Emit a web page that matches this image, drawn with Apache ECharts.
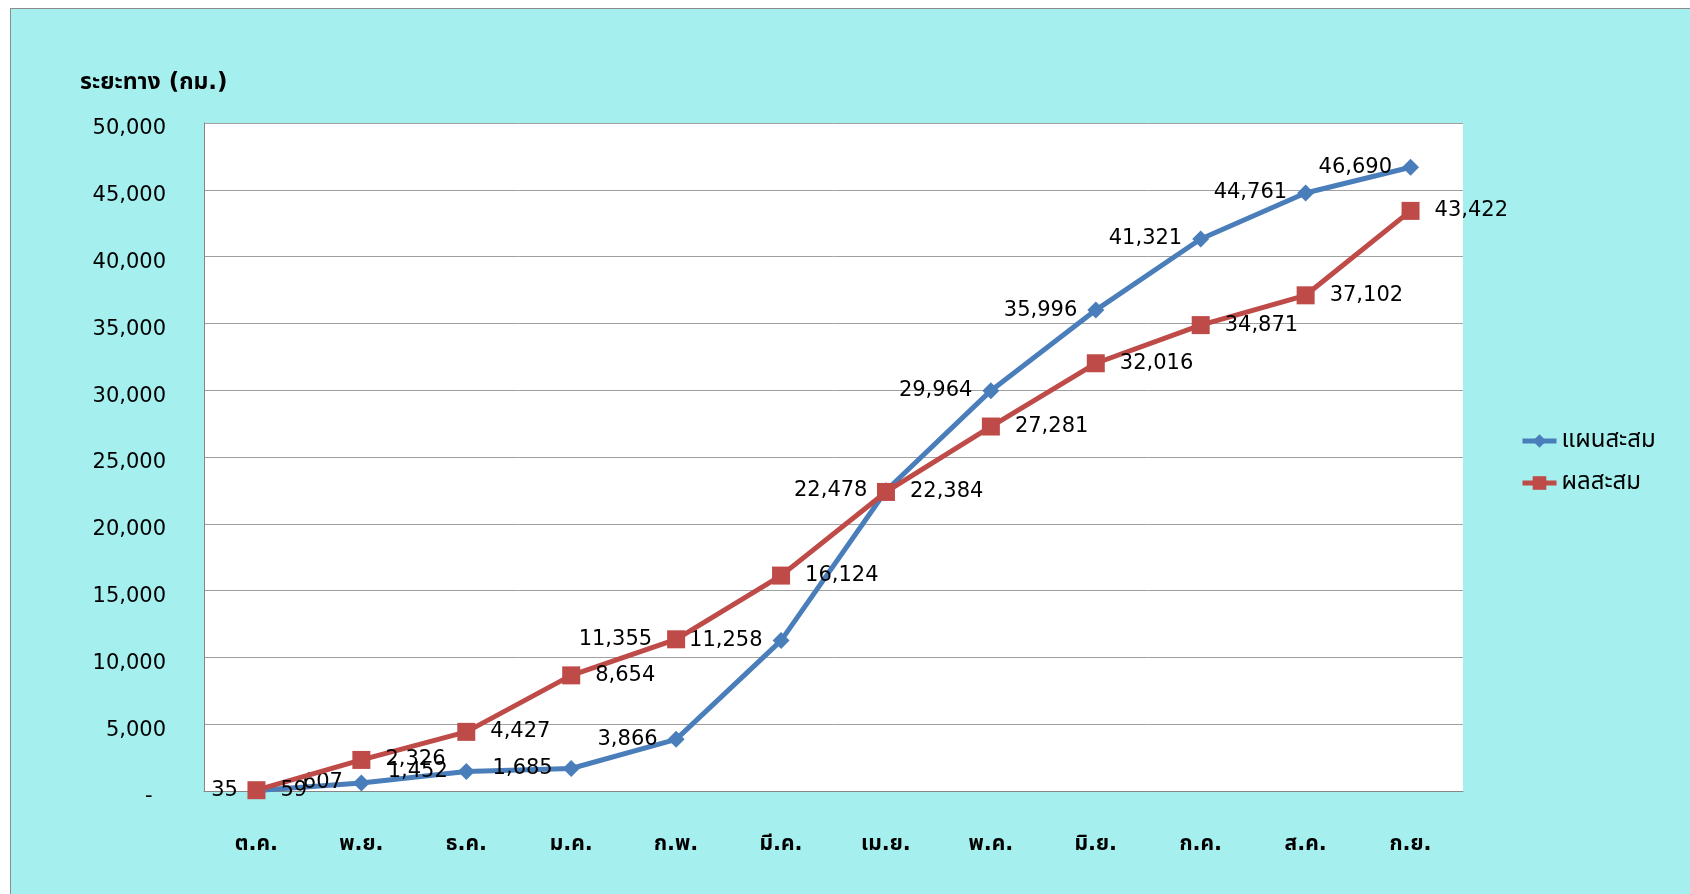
<!DOCTYPE html>
<html>
<head>
<meta charset="utf-8">
<script src="https://cdn.jsdelivr.net/npm/echarts@6/dist/echarts.min.js"></script>
<style>
  html, body { margin: 0; padding: 0; background: #fff; }
  #chart { position: absolute; left: 10px; top: 8px; width: 1680px; height: 886px;
           border-left: 1px solid #8c8c8c; border-top: 1px solid #8c8c8c; background: #a6efef; }
</style>
</head>
<body>
<div id="chart"></div>
<script>
const months = ['ต.ค.', 'พ.ย.', 'ธ.ค.', 'ม.ค.', 'ก.พ.', 'มี.ค.', 'เม.ย.', 'พ.ค.', 'มิ.ย.', 'ก.ค.', 'ส.ค.', 'ก.ย.'];
const planCum = [35, 607, 1452, 1685, 3866, 11258, 22478, 29964, 35996, 41321, 44761, 46690];
const actualCum = [59, 2326, 4427, 8654, 11355, 16124, 22384, 27281, 32016, 34871, 37102, 43422];
const yTicks = { min: 0, max: 50000, step: 5000 };

const font = "'DejaVu Sans', 'Noto Sans Thai', 'Noto Sans', sans-serif";
const fmt = v => v.toLocaleString('en-US');

const chart = echarts.init(document.getElementById('chart'));

const option = {
  backgroundColor: 'transparent',
  textStyle: { fontFamily: font },
  title: {
    text: 'ระยะทาง (กม.)',
    left: 64, top: 58,
    textStyle: { fontFamily: font, fontSize: 23, fontWeight: 'bold', color: '#000' }
  },
  legend: {
    orient: 'vertical',
    left: 1504, top: 415,
    itemWidth: 34, itemHeight: 17, itemGap: 18,
    lineStyle: { width: 5 },
    textStyle: { fontFamily: font, fontSize: 24, color: '#000' },
    data: ['แผนสะสม', 'ผลสะสม']
  },
  grid: {
    left: 193, top: 114, width: 1259, height: 668,
    show: true, backgroundColor: '#ffffff', borderWidth: 0
  },
  xAxis: {
    type: 'category',
    data: months,
    boundaryGap: true,
    axisLine: { lineStyle: { color: '#868686', width: 1 } },
    axisTick: { show: false },
    axisLabel: { fontFamily: font, fontSize: 21, fontWeight: 'bold', color: '#000', margin: 43 }
  },
  yAxis: {
    type: 'value',
    min: yTicks.min, max: yTicks.max, interval: yTicks.step,
    axisLine: { show: true, lineStyle: { color: '#868686', width: 1 } },
    axisTick: { show: false },
    splitLine: { lineStyle: { color: '#a0a0a0', width: 1 } },
    axisLabel: {
      fontFamily: font, fontSize: 21, color: '#000', margin: 38,
      verticalAlign: 'top', lineHeight: 12,
      formatter: v => v === 0 ? '-  ' : fmt(v)
    }
  },
  series: [
    {
      name: 'แผนสะสม',
      type: 'line',
      data: planCum,
      symbol: 'diamond',
      symbolSize: 17,
      z: 3,
      lineStyle: { color: '#4a7ebb', width: 5 },
      itemStyle: { color: '#4a7ebb' },
      label: {
        show: true, position: 'left', distance: 10,
        fontFamily: font, fontSize: 21, color: '#000',
        formatter: p => fmt(p.value)
      }
    },
    {
      name: 'ผลสะสม',
      type: 'line',
      data: actualCum.map((v, i) => i === 4
        ? { value: v, label: { position: 'left' } }
        : v),
      symbol: 'rect',
      symbolSize: 18,
      z: 4,
      lineStyle: { color: '#be4b48', width: 5 },
      itemStyle: { color: '#be4b48' },
      label: {
        show: true, position: 'right', distance: 15,
        fontFamily: font, fontSize: 21, color: '#000',
        formatter: p => fmt(p.value)
      }
    }
  ]
};

chart.setOption(option);
</script>
</body>
</html>
